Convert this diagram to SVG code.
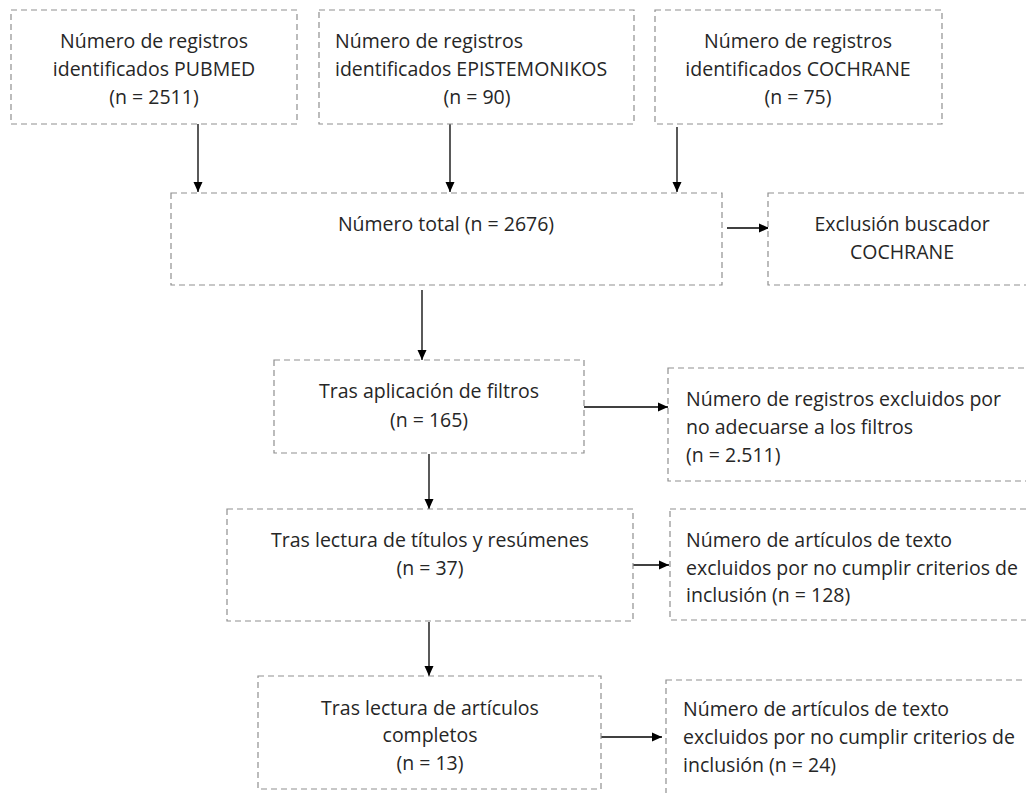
<svg xmlns="http://www.w3.org/2000/svg" width="1026" height="793" viewBox="0 0 1026 793">
<defs>
<marker id="ah" viewBox="0 0 10 10" refX="10" refY="5" markerWidth="10" markerHeight="10" markerUnits="userSpaceOnUse" orient="auto">
<path d="M0,0.5 L10,5 L0,9.5 Z" fill="#000"/>
</marker>
<style>
.box{fill:#fff;stroke:#8f8f8f;stroke-width:1.2;stroke-dasharray:6,4}
.t{font-family:"Open Sans","Liberation Sans",sans-serif;font-size:19.5px;fill:#262626}
.c{text-anchor:middle}
.ar{stroke:#000;stroke-width:1.3;fill:none;marker-end:url(#ah)}
</style>
</defs>
<rect width="1026" height="793" fill="#fff"/>
<g id="connectors">
<line class="ar" x1="198" y1="124" x2="198" y2="192"/>
<line class="ar" x1="450" y1="124" x2="450" y2="192"/>
<line class="ar" x1="677" y1="127" x2="677" y2="192"/>
<line class="ar" x1="727" y1="228" x2="769" y2="228"/>
<line class="ar" x1="422" y1="290" x2="422" y2="360"/>
<line class="ar" x1="584" y1="407" x2="668" y2="407"/>
<line class="ar" x1="429" y1="454" x2="429" y2="509"/>
<line class="ar" x1="633" y1="565" x2="669" y2="565"/>
<line class="ar" x1="429" y1="622" x2="429" y2="676"/>
<line class="ar" x1="601" y1="737" x2="662" y2="737"/>
</g>
<g id="n1">
<rect class="box" x="11" y="10" width="286" height="114"/>
<text class="t c" x="154" y="48">Número de registros</text>
<text class="t c" x="154" y="76">identificados PUBMED</text>
<text class="t c" x="154" y="104">(n = 2511)</text>
</g>
<g id="n2">
<rect class="box" x="319" y="10" width="315" height="114"/>
<text class="t" x="335" y="48">Número de registros</text>
<text class="t" x="335" y="76">identificados EPISTEMONIKOS</text>
<text class="t c" x="477" y="104">(n = 90)</text>
</g>
<g id="n3">
<rect class="box" x="655" y="10" width="287" height="114"/>
<text class="t c" x="798" y="48">Número de registros</text>
<text class="t c" x="798" y="76">identificados COCHRANE</text>
<text class="t c" x="798" y="104">(n = 75)</text>
</g>
<g id="n4">
<rect class="box" x="171" y="193" width="551" height="92"/>
<text class="t c" x="446" y="231">Número total (n = 2676)</text>
</g>
<g id="n5">
<rect class="box" x="768" y="193" width="270" height="92"/>
<text class="t c" x="902" y="231">Exclusión buscador</text>
<text class="t c" x="902" y="259">COCHRANE</text>
</g>
<g id="n6">
<rect class="box" x="274" y="360" width="310" height="93"/>
<text class="t c" x="429" y="398">Tras aplicación de filtros</text>
<text class="t c" x="429" y="427">(n = 165)</text>
</g>
<g id="n7">
<rect class="box" x="668" y="368" width="370" height="113"/>
<text class="t" x="686" y="406">Número de registros excluidos por</text>
<text class="t" x="686" y="434">no adecuarse a los filtros</text>
<text class="t" x="686" y="462">(n = 2.511)</text>
</g>
<g id="n8">
<rect class="box" x="227" y="509" width="406" height="112"/>
<text class="t c" x="430" y="547">Tras lectura de títulos y resúmenes</text>
<text class="t c" x="430" y="575">(n = 37)</text>
</g>
<g id="n9">
<rect class="box" x="670" y="509" width="368" height="111"/>
<text class="t" x="686" y="547">Número de artículos de texto</text>
<text class="t" x="686" y="575">excluidos por no cumplir criterios de</text>
<text class="t" x="686" y="602">inclusión (n = 128)</text>
</g>
<g id="n10">
<rect class="box" x="258" y="676" width="343" height="113"/>
<text class="t c" x="430" y="715">Tras lectura de artículos</text>
<text class="t c" x="430" y="742">completos</text>
<text class="t c" x="430" y="770">(n = 13)</text>
</g>
<g id="n11">
<rect class="box" x="666" y="680" width="372" height="120"/>
<text class="t" x="683" y="716">Número de artículos de texto</text>
<text class="t" x="683" y="744">excluidos por no cumplir criterios de</text>
<text class="t" x="683" y="772">inclusión (n = 24)</text>
</g>
</svg>
